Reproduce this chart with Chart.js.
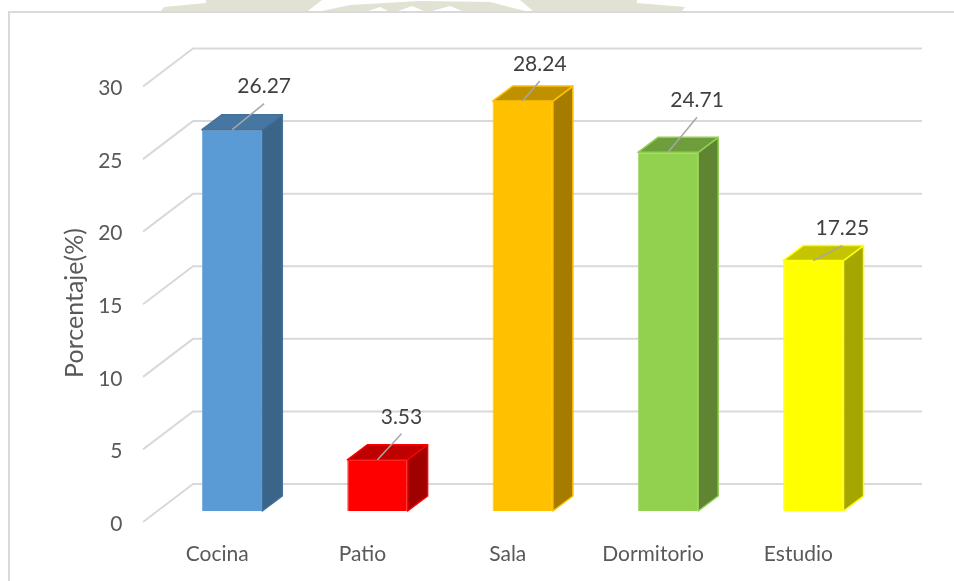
<!DOCTYPE html>
<html>
<head>
<meta charset="utf-8">
<script src="https://cdn.jsdelivr.net/npm/chart.js@4"></script>
<style>
    html, body { margin: 0; padding: 0; background: #fff; }
    #wrap { position: relative; width: 954px; height: 581px; overflow: hidden; }
    canvas { display: block; }
</style>
</head>
<body>
<div id="wrap"><canvas id="chart" width="954" height="581"></canvas></div>
<script>
const categories = ['Cocina', 'Patio', 'Sala', 'Dormitorio', 'Estudio'];
const percentages = [26.27, 3.53, 28.24, 24.71, 17.25];
const yTicks = [0, 5, 10, 15, 20, 25, 30];
const yTitle = 'Porcentaje(%)';

const frontColors = ['#5B9BD5', '#FF0000', '#FFC000', '#92D050', '#FFFF00'];
const sideColors = ['#3A6488', '#A00000', '#A67C00', '#5F8533', '#A6A600'];
const topColors = ['#4676A2', '#C00000', '#BF9000', '#6E9E3C', '#C4C400'];
const edgeColors = ['#7FB0DE', '#FF2020', '#FFC000', '#A8DA78', '#FFFF00'];
const depthEdges = ['#44719B', '#FF0000', '#FFC000', '#92D050', '#FFFF00'];

// where each value label sits relative to the top of its bar
const labelDx = [32, 24, 17, 29, 29];
const labelDy = [-43, -43, -37, -52, -32];

const FONT = 'Lato, sans-serif';
const FONT_SIZE = 21;
const depthX = 20, depthY = 15;

function poly(ctx, pts, fill, stroke) {
    ctx.beginPath();
    pts.forEach((p, i) => i ? ctx.lineTo(p[0], p[1]) : ctx.moveTo(p[0], p[1]));
    ctx.closePath();
    ctx.fillStyle = fill;
    ctx.fill();
    if (stroke) {
        ctx.strokeStyle = stroke;
        ctx.lineWidth = 1.5;
        ctx.stroke();
    }
}

// border of the chart box and the bit of page watermark above it
const frame = {
    id: 'frame',
    beforeDraw: chart => {
        const ctx = chart.ctx;
        ctx.save();
        const olive = '#e1e1d4';
        poly(ctx, [[161, 11], [164, 7], [206, 3], [206, 11]], olive);
        poly(ctx, [[206, 0], [322, 0], [308, 11], [206, 11]], olive);
        poly(ctx, [[322, 11], [350, 5], [420, 1], [490, 2], [525, 11]], olive);
        poly(ctx, [[520, 0], [637, 0], [637, 11], [533, 11]], olive);
        poly(ctx, [[637, 3], [685, 7], [682, 11], [637, 11]], olive);
        poly(ctx, [[368, 11], [380, 7], [388, 11]], '#ffffff');
        poly(ctx, [[398, 11], [412, 6], [424, 11]], '#ffffff');
        poly(ctx, [[432, 11], [450, 6], [462, 11]], '#ffffff');
        ctx.strokeStyle = '#d9d9d9';
        ctx.lineWidth = 2;
        ctx.beginPath();
        ctx.moveTo(9, 581);
        ctx.lineTo(9, 12);
        ctx.lineTo(954, 12);
        ctx.stroke();
        ctx.restore();
    }
};

// angled floor lines + back wall lines
const wall = {
    id: 'wall',
    beforeDatasetsDraw: chart => {
        const ctx = chart.ctx, y = chart.scales.y;
        ctx.save();
        ctx.strokeStyle = '#d9d9d9';
        ctx.lineWidth = 2;
        yTicks.forEach(t => {
            const py = y.getPixelForValue(t);
            ctx.beginPath();
            ctx.moveTo(143, py + 11);
            ctx.lineTo(193, py - 27);
            ctx.lineTo(922, py - 27);
            ctx.stroke();
        });
        ctx.restore();
    }
};

const bars3d = {
    id: 'bars3d',
    afterDatasetsDraw: chart => {
        const ctx = chart.ctx;
        const bars = chart.getDatasetMeta(0).data;
        ctx.save();
        ctx.lineJoin = 'round';
        bars.forEach((bar, i) => {
            const l = bar.x - bar.width / 2, r = bar.x + bar.width / 2;
            const t = bar.y, b = bar.base;
            poly(ctx, [[r, t], [r + depthX, t - depthY], [r + depthX, b - depthY], [r, b]], sideColors[i], depthEdges[i]);
            poly(ctx, [[l, t], [l + depthX, t - depthY], [r + depthX, t - depthY], [r, t]], topColors[i], depthEdges[i]);
        });
        ctx.restore();
    },
    afterDraw: chart => {
        const ctx = chart.ctx;
        const bars = chart.getDatasetMeta(0).data;
        ctx.save();
        ctx.textAlign = 'center';
        ctx.textBaseline = 'middle';
        bars.forEach((bar, i) => {
            const lx = bar.x + labelDx[i], ly = bar.y + labelDy[i];
            ctx.strokeStyle = '#a6a6a6';
            ctx.lineWidth = 1.5;
            ctx.beginPath();
            ctx.moveTo(bar.x, bar.y);
            ctx.lineTo(lx, ly + 17);
            ctx.stroke();
            ctx.fillStyle = '#404040';
            ctx.font = FONT_SIZE + 'px ' + FONT;
            ctx.fillText(percentages[i].toFixed(2), lx, ly);
        });
        // axis title sits lower than the plot centre, so it is placed here
        ctx.translate(75, 303);
        ctx.rotate(-Math.PI / 2);
        ctx.fillStyle = '#595959';
        ctx.font = '25px ' + FONT;
        ctx.fillText(yTitle, 0, 0);
        ctx.restore();
    }
};

new Chart(document.getElementById('chart'), {
    type: 'bar',
    data: {
        labels: categories,
        datasets: [{
            data: percentages,
            backgroundColor: frontColors,
            borderColor: edgeColors,
            borderWidth: 1,
            barPercentage: 0.415,
            categoryPercentage: 1
        }]
    },
    options: {
        responsive: false,
        animation: false,
        layout: { padding: { left: 0, right: 68, top: 75.5, bottom: 4 } },
        plugins: { legend: { display: false }, tooltip: { enabled: false } },
        scales: {
            x: {
                afterFit: s => { s.height = 66; },
                grid: { display: false, drawTicks: false },
                border: { display: false },
                ticks: {
                    padding: 31,
                    labelOffset: -15,
                    maxRotation: 0,
                    autoSkip: false,
                    color: '#595959',
                    font: { family: FONT, size: FONT_SIZE }
                }
            },
            y: {
                min: 0,
                max: 30,
                afterFit: s => { s.width = 159.5; },
                afterBuildTicks: s => { s.ticks = yTicks.map(v => ({ value: v })); },
                grid: { display: false, drawTicks: false },
                border: { display: false },
                ticks: {
                    padding: 37,
                    labelOffset: 13,
                    color: '#595959',
                    font: { family: FONT, size: FONT_SIZE }
                }
            }
        }
    },
    plugins: [frame, wall, bars3d]
});
</script>
</body>
</html>
